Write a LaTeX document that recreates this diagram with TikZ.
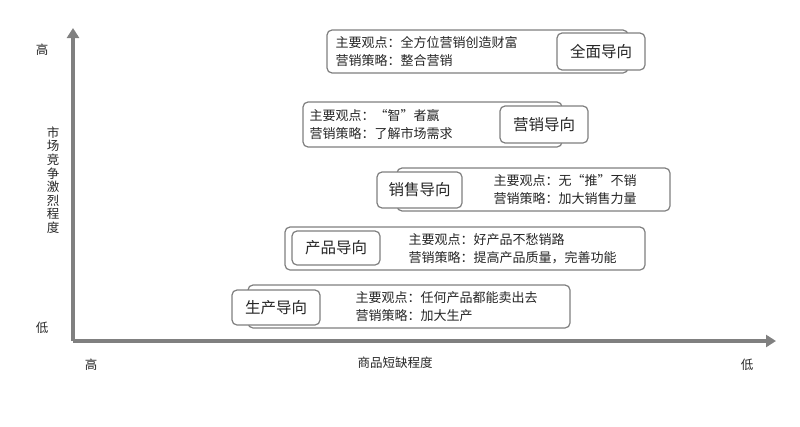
\documentclass[tikz,border=0pt]{standalone}
\usepackage{fontspec}
\setmainfont{Noto Sans CJK SC}
\usetikzlibrary{arrows.meta}
\definecolor{ax}{HTML}{808080}
\definecolor{bd}{HTML}{7F7F7F}
\tikzset{
 outer/.style={draw=bd,line width=1.2pt,rounded corners=5pt,fill=white},
 inner/.style={draw=bd,line width=1.2pt,rounded corners=5pt,fill=white,font=\fontsize{15.5}{15.5}\selectfont,text=black!85},
 txt/.style={anchor=west,align=left,font=\fontsize{13}{18}\selectfont,text=black!85},
 lab/.style={font=\fontsize{12.5}{12.5}\selectfont,text=black!85}
}
\begin{document}
\begin{tikzpicture}[x=1pt,y=-1pt]
\useasboundingbox (0,0) rectangle (800,426);
\coordinate (o) at (73,341);
\coordinate (yt) at (73,28);
\coordinate (xr) at (776,341);
\draw[ax,line width=3.5pt,-{Triangle[length=10pt,width=12pt]}] (o) -- (yt);
\draw[ax,line width=3.5pt,-{Triangle[length=10pt,width=12pt]}] (o) -- (xr);
\node[lab] (yh) at (42,50) {高};
\node[lab] (yl) at (42,328) {低};
\node[lab,align=center,font=\fontsize{12.5}{13.6}\selectfont] (yn) at (53,180) {市\\场\\竞\\争\\激\\烈\\程\\度};
\node[lab] (xh) at (91,365) {高};
\node[lab] (xn) at (395,363) {商品短缺程度};
\node[lab] (xl) at (747,365) {低};
% box 1
\draw[outer] (327,30) rectangle (628,73);
\node[txt] (t1) at (332,52) {主要观点：全方位营销创造财富\\营销策略：整合营销};
\draw[inner] (557,33) rectangle (645,70);
\node[inner,draw=none,fill=none] (n1) at (601,51.5) {全面导向};
% box 2
\draw[outer] (303,102) rectangle (562,147);
\node[txt] (t2) at (306,124.5) {主要观点：“智”者赢\\营销策略：了解市场需求};
\draw[inner] (500,106) rectangle (588,143);
\node[inner,draw=none,fill=none] (n2) at (544,124.5) {营销导向};
% box 3
\draw[outer] (397,168) rectangle (670,211);
\draw[inner] (377,172) rectangle (462,208);
\node[inner,draw=none,fill=none] (n3) at (419.5,190) {销售导向};
\node[txt] (t3) at (490,189.5) {主要观点：无“推”不销\\营销策略：加大销售力量};
% box 4
\draw[outer] (285,227) rectangle (645,270);
\draw[inner] (292,231) rectangle (380,265);
\node[inner,draw=none,fill=none] (n4) at (336,248) {产品导向};
\node[txt] (t4) at (405,248.5) {主要观点：好产品不愁销路\\营销策略：提高产品质量，完善功能};
% box 5
\draw[outer] (248,285) rectangle (570,328);
\draw[inner] (232,290) rectangle (320,325);
\node[inner,draw=none,fill=none] (n5) at (276,307.5) {生产导向};
\node[txt] (t5) at (352,306.5) {主要观点：任何产品都能卖出去\\营销策略：加大生产};
\end{tikzpicture}
\end{document}
